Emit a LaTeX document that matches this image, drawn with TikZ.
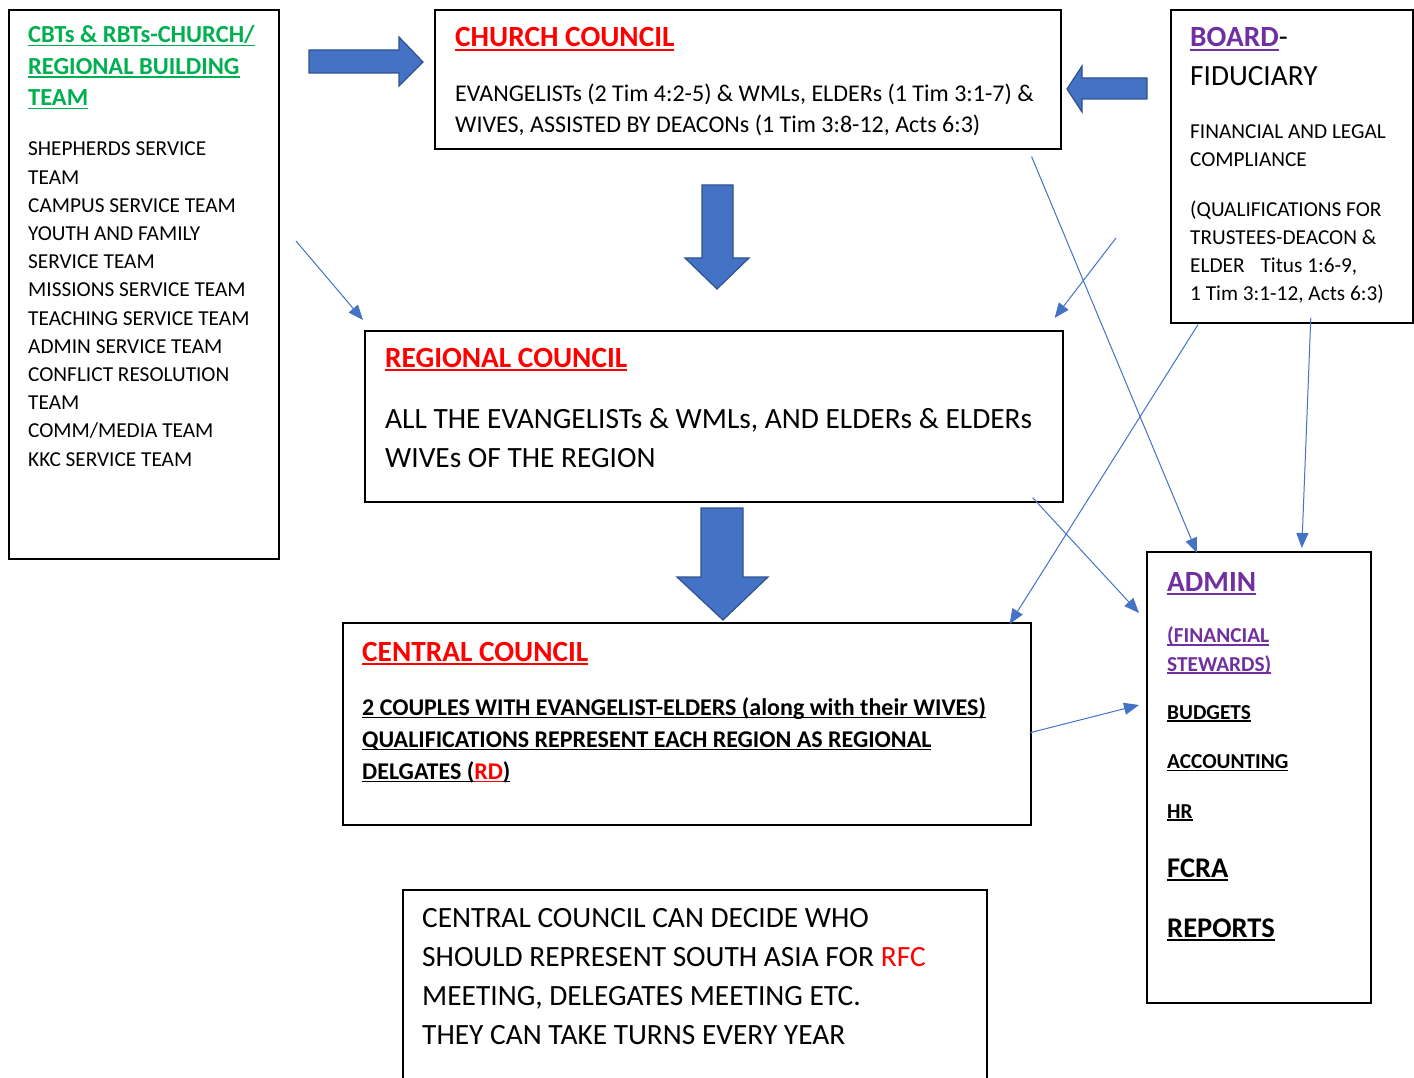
\documentclass[tikz,border=0pt]{standalone}
\usepackage{fontspec}
\setmainfont{Carlito}
\usetikzlibrary{arrows.meta}

\definecolor{blockblue}{HTML}{4472C4}
\definecolor{blockedge}{HTML}{2F528F}
\definecolor{linkblue}{HTML}{4472C4}
\definecolor{teamgreen}{HTML}{00B050}
\definecolor{boardpurple}{HTML}{7030A0}
\definecolor{councilred}{HTML}{FF0000}

\newcommand{\smallfont}{\fontsize{21.3}{28.2}\selectfont}
\newcommand{\bigfont}{\fontsize{29.3}{39}\selectfont}
\newcommand{\undl}[1]{\setbox0\hbox{#1}\rlap{\rule[-0.13em]{\wd0}{0.065em}}\box0}

\tikzset{
  frame/.style={draw=black, line width=1.6pt, inner sep=0pt, anchor=north west},
  txt/.style={anchor=base west, align=left, inner sep=0pt},
  heading/.style={txt, text=councilred, font=\bigfont\bfseries},
  blk/.style={fill=blockblue, draw=blockedge, line width=1.2pt, line join=miter},
  link/.style={draw=linkblue, line width=1pt, -{Triangle[length=15pt,width=12pt]}}
}

\begin{document}
\begin{tikzpicture}[x=1pt,y=-1pt]
\useasboundingbox (0,0) rectangle (1414,1078);
\clip (0,0) rectangle (1414,1078);
\fill[white] (0,0) rectangle (1414,1078);

\node[frame, minimum width=270, minimum height=549] (cbt) at (8,9) {};
\node[frame, minimum width=626, minimum height=139] (church) at (434,9) {};
\node[frame, minimum width=242, minimum height=313] (board) at (1170,9) {};
\node[frame, minimum width=698, minimum height=171] (regional) at (364,330) {};
\node[frame, minimum width=688, minimum height=202] (central) at (342,622) {};
\node[frame, minimum width=224, minimum height=451] (admin) at (1146,551) {};
\node[frame, minimum width=584, minimum height=220] (note) at (402,889) {};

% multi-line texts are placed at the baseline of their last line
\node[txt, text=teamgreen, font=\fontsize{24.5}{31.5}\selectfont\bfseries] (cbttitle) at (28,106)
  {\undl{CBTs \& RBTs-CHURCH/}\\\undl{REGIONAL BUILDING}\\\undl{TEAM}};
\node[txt, font=\smallfont] (cbtlist) at (28,466)
  {SHEPHERDS SERVICE\\TEAM\\CAMPUS SERVICE TEAM\\YOUTH AND FAMILY\\SERVICE TEAM\\MISSIONS SERVICE TEAM\\
   TEACHING SERVICE TEAM\\ADMIN SERVICE TEAM\\CONFLICT RESOLUTION\\TEAM\\COMM/MEDIA TEAM\\KKC SERVICE TEAM};

\node[heading] (churchtitle) at (455,47) {\undl{CHURCH COUNCIL}};
\node[txt, font=\fontsize{24}{31}\selectfont] (churchtext) at (455,133)
  {EVANGELISTs (2 Tim 4:2-5) \& WMLs, ELDERs (1 Tim 3:1-7) \&\\WIVES, ASSISTED BY DEACONs (1 Tim 3:8-12, Acts 6:3)};

\node[txt, font=\bigfont] (boardtitle) at (1190,86)
  {{\bfseries\color{boardpurple}\undl{BOARD}}-\\FIDUCIARY};
\node[txt, font=\fontsize{21.3}{28}\selectfont] (boardtext) at (1190,300)
  {FINANCIAL AND LEGAL\\COMPLIANCE\\[22pt](QUALIFICATIONS FOR\\TRUSTEES-DEACON \&\\ELDER\hspace{16pt}Titus 1:6-9,\\1 Tim 3:1-12, Acts 6:3)};

\node[heading] (regionaltitle) at (385,367) {\undl{REGIONAL COUNCIL}};
\node[txt, font=\fontsize{29.4}{39}\selectfont] (regionaltext) at (385,467)
  {ALL THE EVANGELISTs \& WMLs, AND ELDERs \& ELDERs\\WIVEs OF THE REGION};

\node[heading] (centraltitle) at (362,661) {\undl{CENTRAL COUNCIL}};
\node[txt, font=\fontsize{24}{32}\selectfont\bfseries] (centraltext) at (362,779)
  {\undl{2 COUPLES WITH EVANGELIST-ELDERS (along with their WIVES)}\\
   \undl{QUALIFICATIONS REPRESENT EACH REGION AS REGIONAL}\\
   \undl{DELGATES (}{\color{councilred}\undl{RD}}\undl{)}};

\node[txt, text=boardpurple, font=\bigfont\bfseries] (admintitle) at (1167,591) {\undl{ADMIN}};
\node[txt, text=boardpurple, font=\smallfont\bfseries] (adminsub) at (1167,671)
  {\undl{(FINANCIAL}\\\undl{STEWARDS)}};
\node[txt, font=\fontsize{21.3}{49.5}\selectfont\bfseries] (adminlist) at (1167,818)
  {\undl{BUDGETS}\\\undl{ACCOUNTING}\\\undl{HR}};
\node[txt, font=\fontsize{28.5}{60}\selectfont\bfseries] (adminreports) at (1167,937)
  {\undl{FCRA}\\\undl{REPORTS}};

\node[txt, font=\fontsize{29.4}{38.7}\selectfont] (notetext) at (422,1044)
  {CENTRAL COUNCIL CAN DECIDE WHO\\SHOULD REPRESENT SOUTH ASIA FOR {\color{councilred}RFC}\\
   MEETING, DELEGATES MEETING ETC.\\THEY CAN TAKE TURNS EVERY YEAR};

\draw[blk] (309,50) -- (399,50) -- (399,37) -- (423,62) -- (399,86) -- (399,73) -- (309,73) -- cycle;
\draw[blk] (702,185) -- (733,185) -- (733,258) -- (749,258) -- (717,289) -- (685,258) -- (702,258) -- cycle;
\draw[blk] (1147,78) -- (1082,78) -- (1082,66) -- (1067,89) -- (1082,112) -- (1082,99) -- (1147,99) -- cycle;
\draw[blk] (701,508) -- (743,508) -- (743,577) -- (768,577) -- (723,620) -- (677,577) -- (701,577) -- cycle;

\coordinate (cbtout) at (296,241);
\coordinate (boardout) at (1116,238);

\path[link] (cbtout) -- ([shift={(-1,-10)}]regional.north west);
\path[link] (boardout) -- ([shift={(-9,-12)}]regional.north east);
\path[link] ([shift={(-30,7)}]church.south east) -- ([shift={(51,2)}]admin.north west);
\path[link] ([shift={(28,1)}]board.south west) -- ([shift={(-22,2)}]central.north east);
\path[link] ([shift={(19,-6)}]board.south) -- ([shift={(43,-3)}]admin.north);
\path[link] ([shift={(-31,-5)}]regional.south east) -- ([shift={(-7,62)}]admin.north west);
\path[link] ([shift={(-2,9)}]central.east) -- ([shift={(-7,154)}]admin.north west);
\end{tikzpicture}
\end{document}
